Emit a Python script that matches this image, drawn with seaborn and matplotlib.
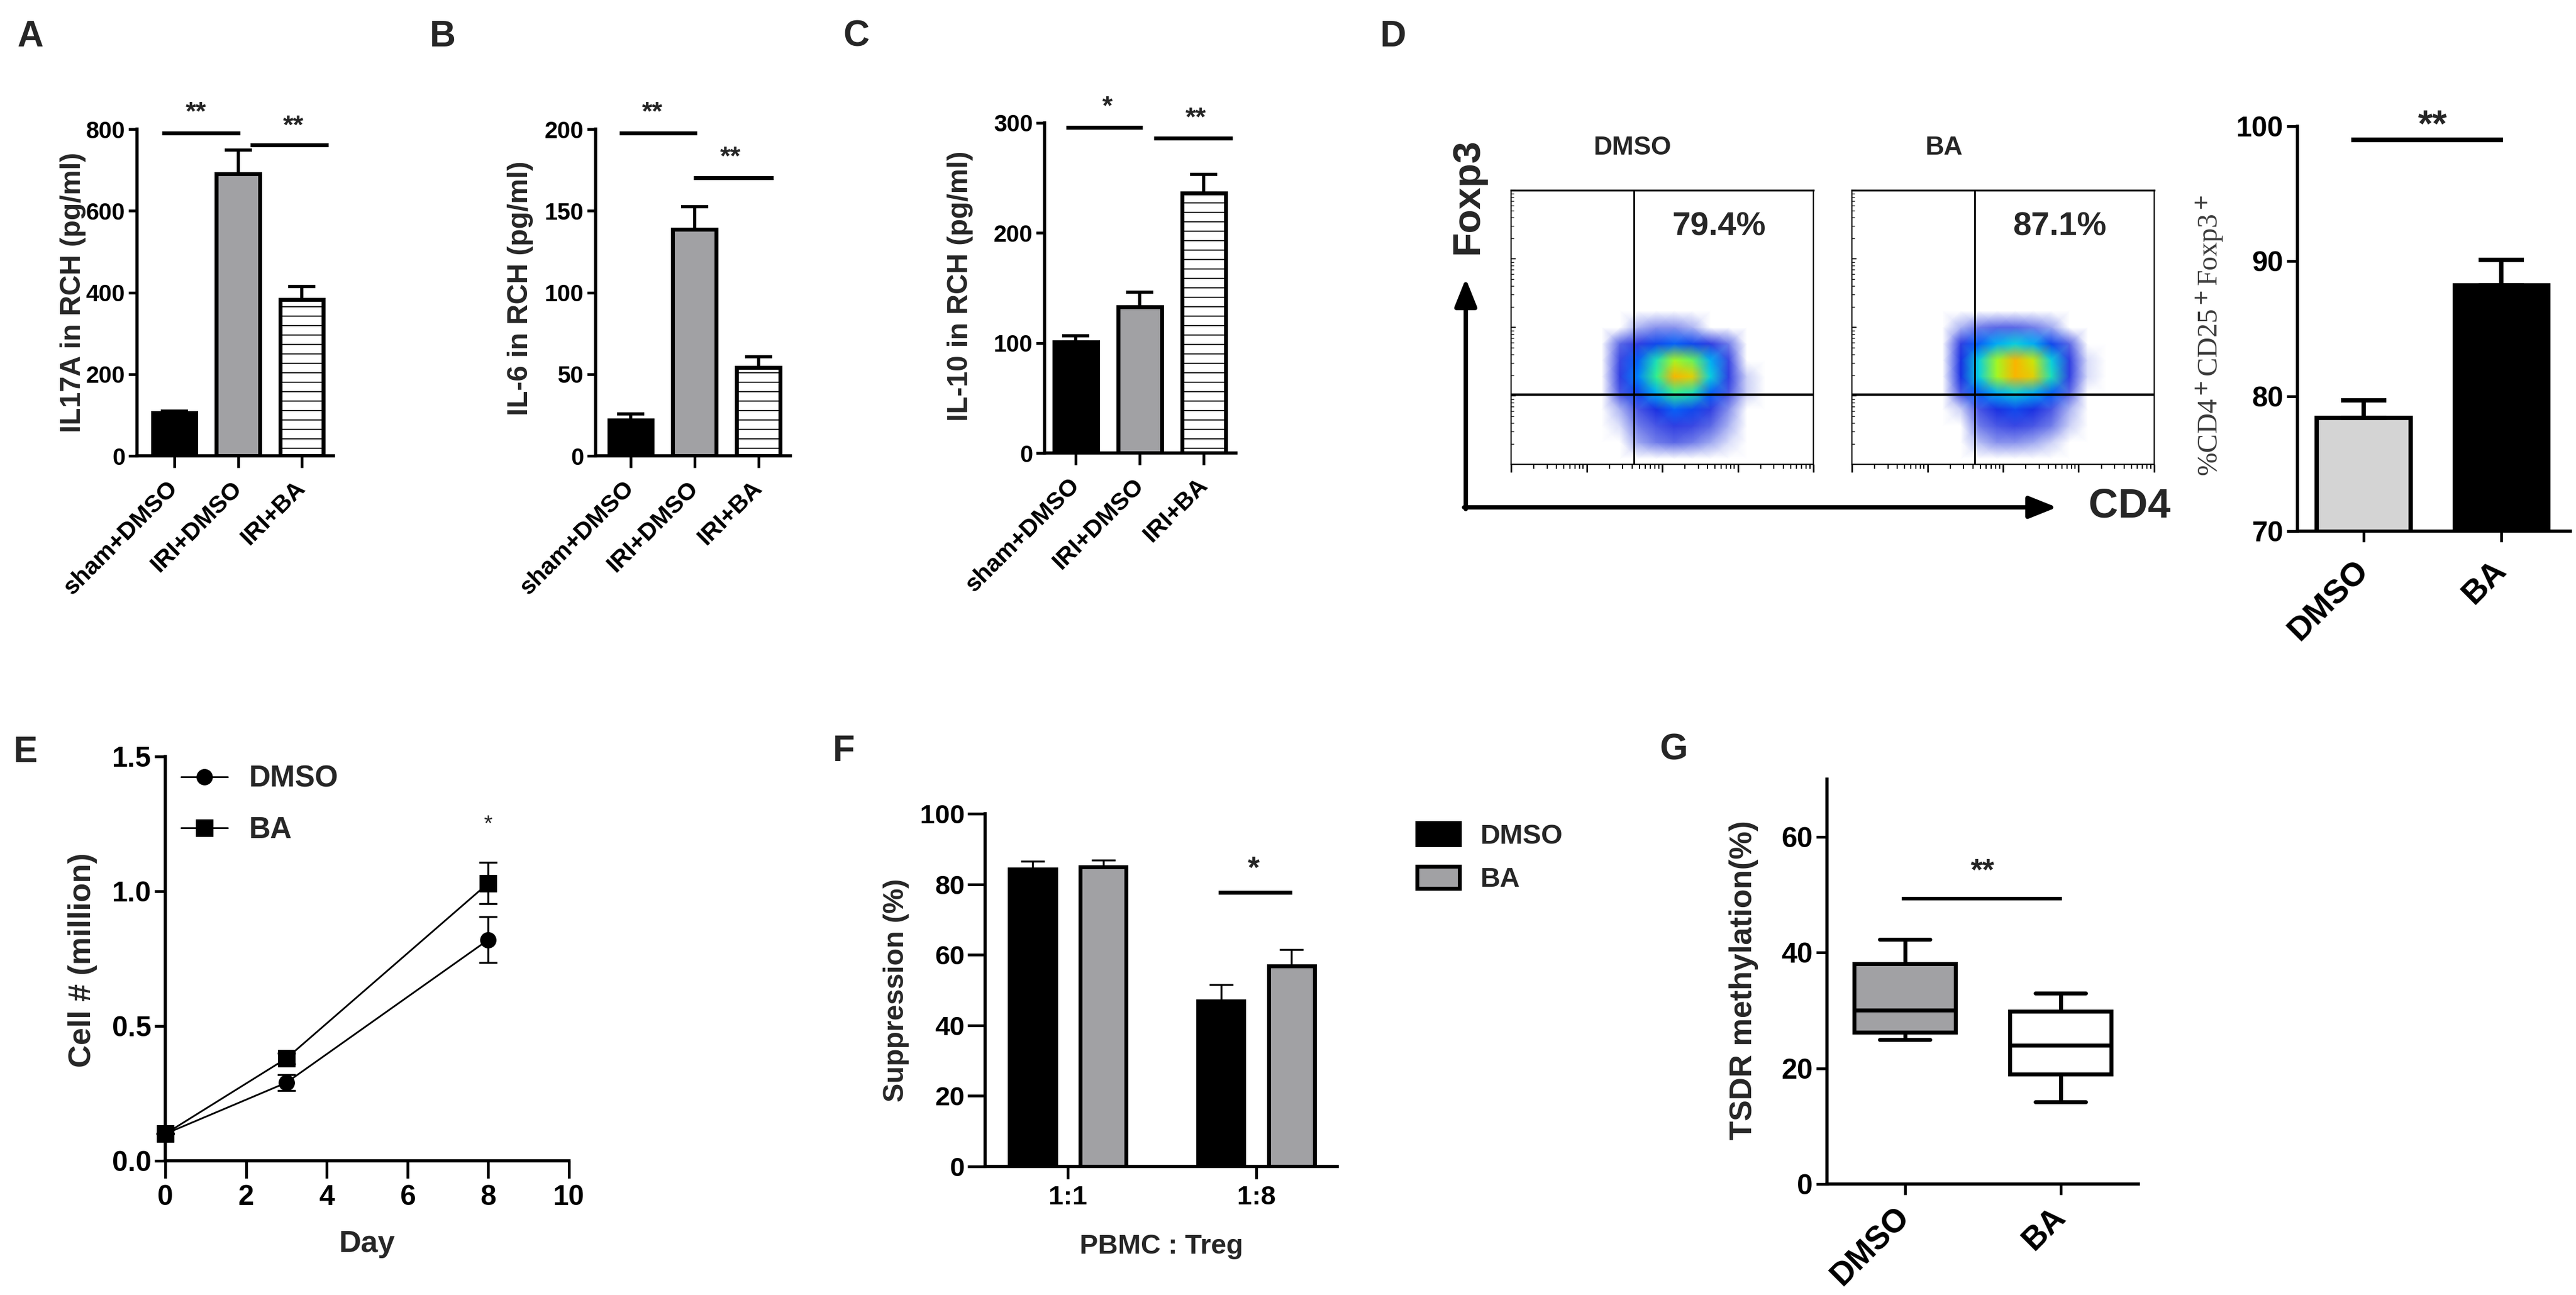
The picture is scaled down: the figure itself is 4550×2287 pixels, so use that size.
import numpy as np
import pandas as pd
import matplotlib
matplotlib.use("Agg")
import matplotlib.pyplot as plt
import seaborn as sns
from matplotlib.colors import LinearSegmentedColormap

# ---------------- data ----------------
groups_abc = ["sham+DMSO", "IRI+DMSO", "IRI+BA"]
il17a_mean = [105, 691, 382]
il17a_err = [5, 58, 32]
il6_mean = [22, 138.5, 54]
il6_err = [3.5, 14, 6.7]
il10_mean = [101, 133, 236]
il10_err = [5.6, 13, 17]

flow_groups = ["DMSO", "BA"]
flow_pct = ["79.4%", "87.1%"]
treg_groups = ["DMSO", "BA"]
treg_mean = [78.4, 88.2]
treg_err = [1.3, 1.9]

days = [0, 3, 8]
cell_dmso = [0.10, 0.29, 0.82]
cell_dmso_err = [0.0, 0.03, 0.085]
cell_ba = [0.10, 0.38, 1.03]
cell_ba_err = [0.0, 0.02, 0.077]

ratios = ["1:1", "1:8"]
supp_dmso = [84.2, 46.9]
supp_dmso_err = [2.3, 4.6]
supp_ba = [84.9, 56.8]
supp_ba_err = [1.9, 4.7]

# box summaries: min, q1, median, q3, max
tsdr_dmso = [25.0, 26.2, 30.1, 38.1, 42.3]
tsdr_ba = [14.2, 19.0, 24.0, 29.9, 33.0]

# flow cytometry density grid, rows listed top -> bottom
flow_x = [0.30, 0.36, 0.42, 0.48, 0.54, 0.60, 0.66, 0.72, 0.78, 0.84]
flow_y = [0.02, 0.08, 0.14, 0.20, 0.26, 0.32, 0.38, 0.44, 0.50, 0.56]
dens_dmso = [
    [0, 0, 0, 0, 0, 0, 0, 0, 0, 0],
    [0, 0, 0.05, 0.08, 0.08, 0.05, 0, 0, 0, 0],
    [0, 0.12, 0.20, 0.30, 0.35, 0.30, 0.20, 0.10, 0, 0],
    [0, 0.18, 0.35, 0.55, 0.70, 0.65, 0.45, 0.18, 0, 0],
    [0, 0.20, 0.40, 0.60, 0.85, 0.80, 0.50, 0.20, 0.03, 0],
    [0, 0.15, 0.30, 0.45, 0.60, 0.55, 0.35, 0.15, 0.03, 0],
    [0, 0.05, 0.15, 0.25, 0.35, 0.30, 0.20, 0.08, 0, 0],
    [0, 0.02, 0.10, 0.15, 0.20, 0.18, 0.12, 0.05, 0, 0],
    [0, 0, 0.06, 0.10, 0.12, 0.10, 0.06, 0.02, 0, 0],
    [0, 0, 0, 0, 0, 0, 0, 0, 0, 0],
]
dens_ba = [
    [0, 0, 0, 0, 0, 0, 0, 0, 0, 0],
    [0, 0.05, 0.10, 0.12, 0.12, 0.10, 0.06, 0, 0, 0],
    [0, 0.20, 0.35, 0.45, 0.50, 0.45, 0.30, 0.12, 0, 0],
    [0, 0.25, 0.50, 0.70, 0.85, 0.75, 0.50, 0.20, 0.02, 0],
    [0, 0.25, 0.50, 0.70, 0.85, 0.80, 0.55, 0.20, 0.02, 0],
    [0, 0.15, 0.35, 0.45, 0.50, 0.45, 0.35, 0.12, 0, 0],
    [0, 0.03, 0.15, 0.25, 0.30, 0.25, 0.15, 0.05, 0, 0],
    [0, 0, 0.10, 0.15, 0.18, 0.15, 0.10, 0.03, 0, 0],
    [0, 0, 0.04, 0.08, 0.08, 0.06, 0.03, 0, 0, 0],
    [0, 0, 0, 0, 0, 0, 0, 0, 0, 0],
]

# ---------------- style ----------------
sns.set_style("ticks")
plt.rcParams.update({
    "font.family": ["Liberation Sans", "DejaVu Sans"],
    "font.weight": "bold",
    "axes.labelweight": "bold",
    "axes.linewidth": 4,
    "xtick.major.width": 3.5,
    "ytick.major.width": 3.5,
    "xtick.color": "black",
    "ytick.color": "black",
    "axes.edgecolor": "black",
    "hatch.linewidth": 1.4,
    "mathtext.fontset": "stix",
})

W, H = 4550, 2287
fig = plt.figure(figsize=(W / 100, H / 100), dpi=100)
GRAY = "#a1a1a4"
LIGHT = "#d4d4d4"


def add_ax(l, t, r, b):
    return fig.add_axes([l / W, 1 - b / H, (r - l) / W, (b - t) / H])


def style_axis(ax, ysize, ylen=14, xlen=14, xpad=6):
    sns.despine(ax=ax)
    for s in ("left", "bottom"):
        ax.spines[s].set_linewidth(4)
    ax.tick_params(axis="y", length=ylen, width=3.5, labelsize=ysize, pad=4)
    ax.tick_params(axis="x", length=xlen, width=3.5, labelsize=ysize, pad=xpad)


def rotate_labels(ax, size):
    for lab in ax.get_xticklabels():
        lab.set_rotation(45)
        lab.set_ha("right")
        lab.set_va("center")
        lab.set_rotation_mode("anchor")
        lab.set_fontsize(size)


def star(ax, x, y, txt, fs, weight="bold"):
    ax.annotate(txt, xy=(x, y), xytext=(0, -0.25 * fs), textcoords="offset points",
                ha="center", va="baseline", fontsize=fs, fontweight=weight,
                annotation_clip=False)


def sigline(ax, x0, x1, y, lw=5):
    ax.plot([x0, x1], [y, y], color="black", lw=lw, clip_on=False,
            solid_capstyle="butt")


def sorted_bars(ax):
    return sorted([p for p in ax.patches if p.get_height() > 0], key=lambda p: p.get_x())


def upper_err(ax, bars, means, errs, lw, cap):
    xs = [p.get_x() + p.get_width() / 2 for p in bars]
    ax.errorbar(xs, means, yerr=[np.zeros(len(errs)), errs], fmt="none",
                ecolor="black", elinewidth=lw, capsize=cap, capthick=lw, zorder=3)


# ---------------- A, B, C ----------------
abc_specs = [
    ((242, 228, 589, 805), il17a_mean, il17a_err, 800, [0, 200, 400, 600, 800],
     "IL17A in RCH (pg/ml)", (-0.59, 2.5), (-0.259, 0.50),
     [(-0.2, 1.03, 790), (1.19, 2.42, 761)], [(0.34, 839, "**"), (1.87, 805, "**")]),
    ((1052, 228, 1396, 805), il6_mean, il6_err, 200, [0, 50, 100, 150, 200],
     "IL-6 in RCH (pg/ml)", (-0.55, 2.5), (-0.32, 0.513),
     [(-0.18, 1.04, 197.6), (0.98, 2.23, 170.2)], [(0.34, 209.7, "**"), (1.56, 182.3, "**")]),
    ((1845, 217, 2183, 800), il10_mean, il10_err, 300, [0, 100, 200, 300],
     "IL-10 in RCH (pg/ml)", (-0.49, 2.5), (-0.373, 0.506),
     [(-0.15, 1.04, 296.1), (1.22, 2.45, 286.1)], [(0.49, 314, "*"), (1.87, 303.6, "**")]),
]
for box, means, errs, ymax, yt, ylab, xl, lc, lines, stars in abc_specs:
    ax = add_ax(*box)
    sns.barplot(x=groups_abc, y=means, hue=groups_abc, palette=["black", GRAY, "white"],
                legend=False, width=0.68, edgecolor="black", linewidth=5,
                saturation=1, errorbar=None, ax=ax)
    bars = sorted_bars(ax)
    bars[2].set_hatch("-")
    upper_err(ax, bars, means, errs, 4, 17)
    ax.set_xlim(*xl)
    ax.set_ylim(0, ymax)
    ax.set_yticks(yt)
    style_axis(ax, 30, ylen=11, xlen=15, xpad=22)
    rotate_labels(ax, 31)
    ax.set_xlabel("")
    ax.set_ylabel(ylab, fontsize=36, fontweight="bold")
    ax.yaxis.set_label_coords(*lc)
    for x0, x1, y in lines:
        sigline(ax, x0, x1, y)
    for x, y, t in stars:
        star(ax, x, y, t, 34)

# ---------------- D flow plots ----------------
cmap = LinearSegmentedColormap.from_list("flow", [
    (0.0, "white"), (0.04, "#b4bcf4"), (0.12, "#5865e6"), (0.24, "#1c2ce0"),
    (0.38, "#0070ff"), (0.48, "#00c8f0"), (0.6, "#30f090"), (0.72, "#b8f810"),
    (0.86, "#ffb000"), (1.0, "#ff1800")])
maj = [0, 0.25, 0.5, 0.75, 1.0]
minr = [(d + np.log10(k)) / 4 for d in range(4) for k in range(2, 10)]
for box, dens in [((2669, 336, 3203, 820), dens_dmso), ((3271, 336, 3805, 820), dens_ba)]:
    fa = add_ax(*box)
    fa.pcolormesh(flow_x, flow_y, np.array(dens)[::-1], shading="gouraud",
                  cmap=cmap, vmin=0, vmax=1)
    fa.axvline(0.406, color="black", lw=2.2)
    fa.axhline(0.255, color="black", lw=3.2)
    fa.set_xlim(0, 1)
    fa.set_ylim(0, 1)
    for s in fa.spines.values():
        s.set_linewidth(1.6)
    fa.spines["top"].set_linewidth(2.4)
    fa.set_xticks(maj)
    fa.set_xticks(minr, minor=True)
    fa.set_yticks(maj)
    fa.set_yticks(minr, minor=True)
    fa.tick_params(labelbottom=False, labelleft=False)
    fa.tick_params(axis="x", which="major", direction="out", length=10, width=2)
    fa.tick_params(axis="x", which="minor", direction="out", length=6, width=1.5)
    fa.tick_params(axis="y", which="major", direction="in", length=6, width=1.5)
    fa.tick_params(axis="y", which="minor", direction="in", length=3.5, width=1)

# ---------------- D bar ----------------
axD = add_ax(4058, 223, 4540, 938)
sns.barplot(x=treg_groups, y=treg_mean, hue=treg_groups, palette=[LIGHT, "black"],
            legend=False, width=0.68, edgecolor="black", linewidth=5.5,
            saturation=1, errorbar=None, ax=axD)
barsD = sorted_bars(axD)
upper_err(axD, barsD, treg_mean, treg_err, 5.5, 29)
axD.set_xlim(-0.48, 1.5)
axD.set_ylim(70, 100)
axD.set_yticks([70, 80, 90, 100])
style_axis(axD, 36, xpad=30)
rotate_labels(axD, 42)
axD.set_xlabel("")
axD.set_ylabel(r"%CD4$^+$CD25$^+$Foxp3$^+$", fontsize=36, fontweight="normal",
               fontfamily="Liberation Serif", color="#3a3a3a")
axD.yaxis.set_label_coords(-0.263, 0.483)
sigline(axD, -0.09, 1.01, 99.0, lw=6)
star(axD, 0.5, 100.0, "**", 48)

# ---------------- E ----------------
axE = add_ax(292, 1336, 1005, 2050)
dfE = pd.DataFrame({"day": days * 2, "cells": cell_dmso + cell_ba,
                    "group": ["DMSO"] * 3 + ["BA"] * 3})
sns.lineplot(data=dfE, x="day", y="cells", style="group",
             markers={"DMSO": "o", "BA": "s"}, dashes=False, color="black",
             markersize=20, linewidth=2.2, markeredgecolor="black", legend=False, ax=axE)
handlesE = list(axE.get_lines())[:2]
handlesE[1].set_markersize(21)
axE.errorbar(days, cell_dmso, yerr=cell_dmso_err, fmt="none", ecolor="black",
             elinewidth=2.5, capsize=11.5, capthick=2.5)
axE.errorbar(days, cell_ba, yerr=cell_ba_err, fmt="none", ecolor="black",
             elinewidth=2.5, capsize=11.5, capthick=2.5)
for art in axE.lines + axE.collections:
    art.set_clip_on(False)
axE.set_xlim(0, 10)
axE.set_ylim(0, 1.5)
axE.set_xticks([0, 2, 4, 6, 8, 10])
axE.set_yticks([0.0, 0.5, 1.0, 1.5])
axE.yaxis.set_major_formatter(matplotlib.ticker.FormatStrFormatter("%.1f"))
style_axis(axE, 36, ylen=14, xlen=22, xpad=8)
axE.set_xlabel("Day", fontsize=39, fontweight="bold")
axE.xaxis.set_label_coords(0.5, -0.171)
axE.set_ylabel("Cell # (million)", fontsize=40, fontweight="bold")
axE.yaxis.set_label_coords(-0.168, 0.497)
axE.legend(handlesE, ["DMSO", "BA"], loc="upper left", bbox_to_anchor=(0.039, 0.979),
           frameon=False, prop={"weight": "bold", "size": 38}, handlelength=1.55,
           handletextpad=0.72, labelspacing=0.76, borderpad=0, borderaxespad=0)
star(axE, 8, 1.246, "*", 28, weight="normal")

# ---------------- F ----------------
axF = add_ax(1740, 1437, 2362, 2060)
dfF = pd.DataFrame({"ratio": ratios * 2, "supp": supp_dmso + supp_ba,
                    "group": ["DMSO"] * 2 + ["BA"] * 2})
sns.barplot(data=dfF, x="ratio", y="supp", hue="group",
            palette={"DMSO": "black", "BA": GRAY}, width=0.75, gap=0.35,
            edgecolor="black", linewidth=5, saturation=1, errorbar=None,
            legend=False, ax=axF)
barsF = sorted_bars(axF)
upper_err(axF, barsF, [supp_dmso[0], supp_ba[0], supp_dmso[1], supp_ba[1]],
          [supp_dmso_err[0], supp_ba_err[0], supp_dmso_err[1], supp_ba_err[1]], 2.5, 15)
axF.set_xlim(-0.44, 1.43)
axF.set_ylim(0, 100)
axF.set_yticks([0, 20, 40, 60, 80, 100])
style_axis(axF, 34, ylen=22, xlen=16, xpad=8)
axF.set_xlabel("PBMC : Treg", fontsize=35, fontweight="bold")
axF.xaxis.set_label_coords(0.5, -0.191)
axF.set_ylabel("Suppression (%)", fontsize=36, fontweight="bold")
axF.yaxis.set_label_coords(-0.215, 0.5)
axF.legend([barsF[0], barsF[1]], ["DMSO", "BA"], loc="upper left",
           bbox_to_anchor=(1.227, 0.974), frameon=False,
           prop={"weight": "bold", "size": 35}, handlelength=1.54, handleheight=0.86,
           handletextpad=0.76, labelspacing=0.62, borderpad=0, borderaxespad=0)
sigline(axF, 0.80, 1.19, 77.7, lw=5)
star(axF, 0.985, 84.1, "*", 39)

# ---------------- G ----------------
axG = add_ax(3227, 1376, 3777, 2091)
dfG = pd.DataFrame({"group": ["DMSO"] * 5 + ["BA"] * 5, "tsdr": tsdr_dmso + tsdr_ba})
sns.boxplot(data=dfG, x="group", y="tsdr", hue="group",
            palette={"DMSO": GRAY, "BA": "white"}, whis=(0, 100), width=0.65,
            linewidth=5, linecolor="black", saturation=1, fliersize=0,
            legend=False, ax=axG)
axG.set_xlim(-0.5, 1.5)
axG.set_ylim(0, 70)
axG.set_yticks([0, 20, 40, 60])
style_axis(axG, 36, xpad=22)
rotate_labels(axG, 41)
axG.set_xlabel("")
axG.set_ylabel("TSDR methylation(%)", fontsize=40, fontweight="bold")
axG.yaxis.set_label_coords(-0.22, 0.503)
sigline(axG, -0.02, 1.01, 49.3, lw=4.5)
star(axG, 0.5, 53.9, "**", 39)

# ---------------- overlay: panel letters, flow labels, arrows ----------------
ov = fig.add_axes([0, 0, 1, 1], facecolor="none")
ov.set_xlim(0, W)
ov.set_ylim(H, 0)
ov.axis("off")
for x, y, t in [(53, 65, "A"), (782, 65, "B"), (1512, 65, "C"), (2461, 65, "D"),
                (45, 1329, "E"), (1490, 1327, "F"), (2956, 1325, "G")]:
    ov.text(x, y, t, ha="center", va="center", fontsize=46, fontweight="bold")
for x, t in zip([2884, 3434], flow_groups):
    ov.text(x, 261, t, ha="center", va="center", fontsize=33, fontweight="bold")
for x, t in zip([3036, 3638], flow_pct):
    ov.text(x, 401, t, ha="center", va="center", fontsize=42, fontweight="bold")
ov.text(2592, 347, "Foxp3", rotation=90, ha="center", va="center", fontsize=50,
        fontweight="bold")
ov.text(3761, 895, "CD4", ha="center", va="center", fontsize=52, fontweight="bold")
arrow = dict(arrowstyle="-|>,head_length=1.5,head_width=0.6", lw=5.5, color="black",
             shrinkA=0, shrinkB=0, mutation_scale=20)
ov.annotate("", xy=(2589, 492), xytext=(2589, 899), arrowprops=arrow)
ov.annotate("", xy=(3633, 896), xytext=(2586, 896), arrowprops=arrow)

fig.savefig("out.png", dpi=100, facecolor="white")
